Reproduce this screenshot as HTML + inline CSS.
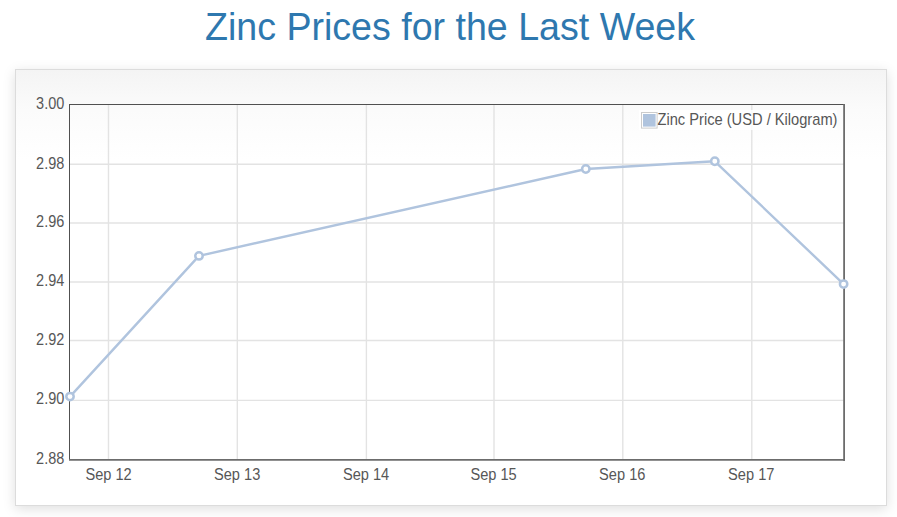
<!DOCTYPE html>
<html><head><meta charset="utf-8"><title>Zinc Prices for the Last Week</title>
<style>
html,body{margin:0;padding:0;background:#fff;width:897px;height:517px;overflow:hidden}
body{position:relative;font-family:"Liberation Sans",Arial,sans-serif}
.panel{position:absolute;left:15px;top:69px;width:870px;height:435px;border:1px solid #dcdcdc;
background:linear-gradient(to bottom,#f4f4f4 0px,#fbfbfb 40px,#fff 90px,#fff 100%);
box-shadow:0 3px 12px rgba(0,0,0,0.13)}
svg{position:absolute;left:0;top:0}
svg text{font-family:"Liberation Sans",Arial,sans-serif;fill:#575757}
</style></head>
<body>
<div class="panel"></div>
<svg width="897" height="517" viewBox="0 0 897 517">
 <text x="205" y="39.6" font-size="38.3" textLength="490" lengthAdjust="spacingAndGlyphs" style="fill:#2e78af">Zinc Prices for the Last Week</text>
 <g stroke="#e3e3e3" stroke-width="1.4" fill="none">
  <line x1="69" y1="164.3" x2="844" y2="164.3"/>
  <line x1="69" y1="223" x2="844" y2="223"/>
  <line x1="69" y1="282" x2="844" y2="282"/>
  <line x1="69" y1="340.5" x2="844" y2="340.5"/>
  <line x1="69" y1="400.4" x2="844" y2="400.4"/>
  <line x1="108.5" y1="104" x2="108.5" y2="460"/>
  <line x1="237.3" y1="104" x2="237.3" y2="460"/>
  <line x1="366.4" y1="104" x2="366.4" y2="460"/>
  <line x1="494" y1="104" x2="494" y2="460"/>
  <line x1="622.8" y1="104" x2="622.8" y2="460"/>
  <line x1="751.8" y1="104" x2="751.8" y2="460"/>
 </g>
 <!-- plot border -->
 <g fill="none">
  <line x1="69.5" y1="104" x2="69.5" y2="460" stroke="#505050" stroke-width="1"/>
  <line x1="69" y1="104.5" x2="844" y2="104.5" stroke="#505050" stroke-width="1"/>
  <line x1="844.1" y1="104" x2="844.1" y2="461" stroke="#6c6c6c" stroke-width="1.8"/>
  <line x1="69" y1="459.9" x2="845" y2="459.9" stroke="#6c6c6c" stroke-width="1.8"/>
 </g>
 <!-- legend -->
 <rect x="639" y="110" width="198" height="20" fill="#fff" fill-opacity="0.85"/>
 <rect x="641.5" y="112.5" width="15.6" height="15.6" fill="#fff" stroke="#cccccc" stroke-width="1"/>
 <rect x="643" y="114" width="12.6" height="12.6" fill="#b0c4de"/>
 <text x="657.5" y="124.7" font-size="15.7" textLength="180" lengthAdjust="spacingAndGlyphs">Zinc Price (USD / Kilogram)</text>
 <!-- y labels -->
 <g font-size="15.6" text-anchor="end">
  <text x="64.3" y="108.9" textLength="28.2" lengthAdjust="spacingAndGlyphs">3.00</text>
  <text x="64.3" y="168.9" textLength="28.2" lengthAdjust="spacingAndGlyphs">2.98</text>
  <text x="64.3" y="226.9" textLength="28.2" lengthAdjust="spacingAndGlyphs">2.96</text>
  <text x="64.3" y="286" textLength="28.2" lengthAdjust="spacingAndGlyphs">2.94</text>
  <text x="64.3" y="344.9" textLength="28.2" lengthAdjust="spacingAndGlyphs">2.92</text>
  <text x="64.3" y="404" textLength="28.2" lengthAdjust="spacingAndGlyphs">2.90</text>
  <text x="64.3" y="463.9" textLength="28.2" lengthAdjust="spacingAndGlyphs">2.88</text>
 </g>
 <!-- x labels -->
 <g font-size="15.6">
  <text x="85.4" y="480.3" textLength="46.3" lengthAdjust="spacingAndGlyphs">Sep 12</text>
  <text x="214.0" y="480.3" textLength="46.3" lengthAdjust="spacingAndGlyphs">Sep 13</text>
  <text x="342.9" y="480.3" textLength="46.3" lengthAdjust="spacingAndGlyphs">Sep 14</text>
  <text x="470.4" y="480.3" textLength="46.3" lengthAdjust="spacingAndGlyphs">Sep 15</text>
  <text x="599.1" y="480.3" textLength="46.3" lengthAdjust="spacingAndGlyphs">Sep 16</text>
  <text x="728.1" y="480.3" textLength="46.3" lengthAdjust="spacingAndGlyphs">Sep 17</text>
 </g>
 <!-- series -->
 <polyline points="70,396.6 199,255.9 585.8,169 714.8,161.3 843.6,284.1" fill="none" stroke="#b0c4de" stroke-width="2.4" stroke-linejoin="round"/>
 <g fill="#fff" stroke="#b0c4de" stroke-width="2.5">
  <circle cx="70" cy="396.6" r="3.7"/>
  <circle cx="199" cy="255.9" r="3.7"/>
  <circle cx="585.8" cy="169" r="3.7"/>
  <circle cx="714.8" cy="161.3" r="3.7"/>
  <circle cx="843.6" cy="284.1" r="3.7"/>
 </g>
</svg>
</body></html>
